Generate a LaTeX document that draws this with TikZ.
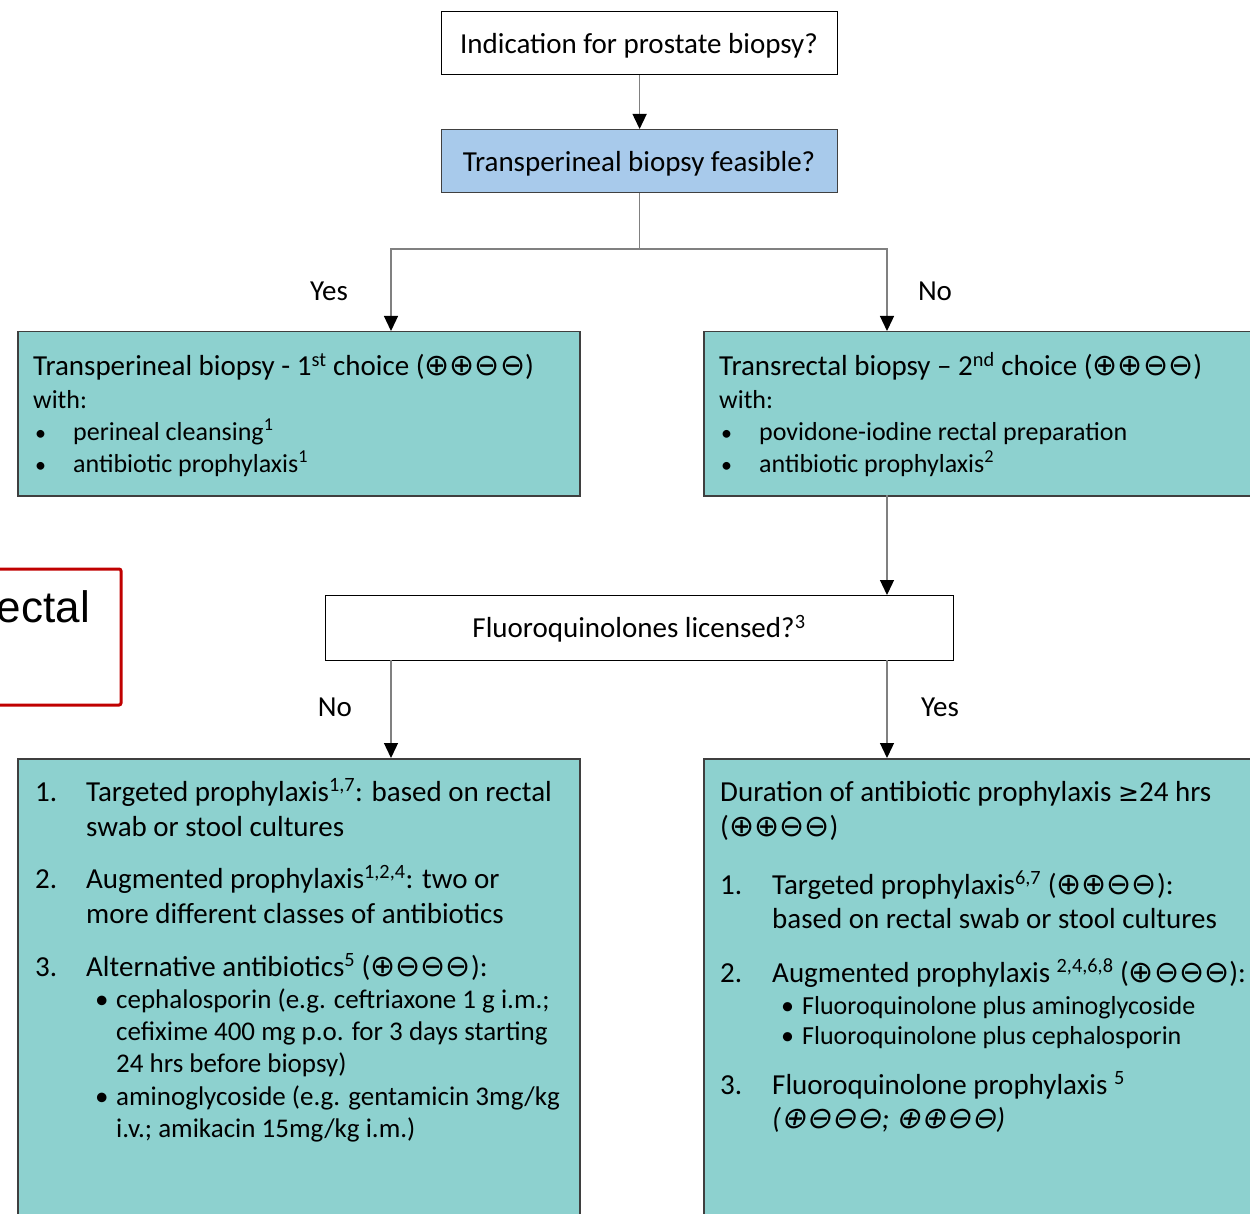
\documentclass[tikz,border=0pt]{standalone}
\usepackage{fontspec}
\setmainfont{Carlito}
\newfontfamily\symf{DejaVu Sans}
\newfontfamily\symfi{DejaVu Sans}[FakeSlant=0.2]
\newfontfamily\redf{Liberation Sans}
\usetikzlibrary{arrows.meta}
\definecolor{tealfill}{HTML}{8DD1CF}
\definecolor{bluefill}{HTML}{A8CAEB}
\definecolor{conncol}{HTML}{808080}
\definecolor{tealdraw}{HTML}{3F3F3F}
\definecolor{redline}{HTML}{C00000}
\newcommand\gr[1]{{\symf\fontsize{30}{30}\selectfont #1}}
\newcommand\gri[1]{{\symfi\fontsize{30}{30}\selectfont #1}}
\newcommand\sps[1]{\textsuperscript{#1}}
\newcommand\smallsz{\fontsize{26}{30}\selectfont}
\newcommand\midsz{\fontsize{27}{30}\selectfont}
\tikzset{
  x=1pt, y=-1pt,
  every node/.style={font=\fontsize{29}{35}\selectfont},
  qbox/.style={draw=black, line width=1.2pt, fill=white, inner sep=0pt, anchor=north west},
  bbox/.style={draw=black!75, line width=1.2pt, fill=bluefill, inner sep=0pt, anchor=north west},
  tbox/.style={draw=tealdraw, line width=1.5pt, fill=tealfill, inner sep=0pt, anchor=north west},
  txt/.style={anchor=base west, inner sep=0pt},
  stxt/.style={anchor=base west, inner sep=0pt, font=\smallsz},
  mtxt/.style={anchor=base west, inner sep=0pt, font=\midsz},
  lbl/.style={anchor=center, inner sep=0pt},
  conn/.style={draw=conncol, line width=1.3pt},
  arr/.style={conn, -{Triangle[width=14pt,length=15pt,fill=black,color=black]}},
}
\begin{document}
\begin{tikzpicture}
\useasboundingbox (0,0) rectangle (1250,1214);
\clip (0,0) rectangle (1250,1214);
% red box fragment
\draw[redline, line width=3pt, rounded corners=2pt] (-20,569) rectangle (121,705);
\node[anchor=base east, inner sep=0pt, font=\redf\fontsize{44}{44}\selectfont] (redtxt) at (90,622) {ectal};

% boxes
\node[qbox, minimum width=396pt, minimum height=63pt] (q1) at (441,11) {};
\node[lbl] (q1t) at (639,46) {Indication for prostate biopsy?};
\node[bbox, minimum width=396pt, minimum height=63pt] (q2) at (441,129) {};
\node[lbl] (q2t) at (639,164) {Transperineal biopsy feasible?};
\node[tbox, minimum width=562pt, minimum height=164pt] (lb) at (17,331) {};
\node[tbox, minimum width=600pt, minimum height=164pt] (rb) at (703,331) {};
\node[qbox, minimum width=628pt, minimum height=65pt] (fq) at (325,595) {};
\node[lbl] (fqt) at (639,629) {Fluoroquinolones licensed?\sps{3}};
\node[tbox, minimum width=562pt, minimum height=500pt] (bl) at (17,758) {};
\node[tbox, minimum width=600pt, minimum height=500pt] (br) at (703,758) {};

% connectors
\coordinate (split) at (q2.south |- 0,249);
\coordinate (lbt) at (391,331);
\coordinate (rbt) at (887,331);
\coordinate (rbb) at (887,495);
\coordinate (fqt1) at (887,595);
\coordinate (fqb1) at (391,660);
\coordinate (fqb2) at (887,660);
\coordinate (blt) at (391,758);
\coordinate (brt) at (887,758);
\draw[arr] (q1.south) -- (q2.north);
\draw[conn] (q2.south) -- (split);
\draw[arr] (split) -| (lbt);
\draw[arr] (split) -| (rbt);
\draw[arr] (rbb) -- (fqt1);
\draw[arr] (fqb1) -- (blt);
\draw[arr] (fqb2) -- (brt);

% labels
\node[lbl] (yes1) at (329,291) {Yes};
\node[lbl] (no1) at (935,291) {No};
\node[lbl] (no2) at (335,707) {No};
\node[lbl] (yes2) at (940,707) {Yes};

% left box text
\node[txt] (l1) at (33,376) {Transperineal biopsy - 1\sps{st} choice (\gr{⊕⊕⊖⊖})};
\node[stxt] (l2) at (33,408) {with:};
\node[stxt] (l3b) at (35,440) {\fontsize{22}{22}\selectfont•};
\node[stxt] (l3) at (73,440) {perineal cleansing\sps{1}};
\node[stxt] (l4b) at (35,472) {\fontsize{22}{22}\selectfont•};
\node[stxt] (l4) at (73,472) {antibiotic prophylaxis\sps{1}};

% right box text
\node[txt] (r1) at (719,376) {Transrectal biopsy – 2\sps{nd} choice (\gr{⊕⊕⊖⊖})};
\node[stxt] (r2) at (719,408) {with:};
\node[stxt] (r3b) at (721,440) {\fontsize{22}{22}\selectfont•};
\node[stxt] (r3) at (759,440) {povidone-iodine rectal preparation};
\node[stxt] (r4b) at (721,472) {\fontsize{22}{22}\selectfont•};
\node[stxt] (r4) at (759,472) {antibiotic prophylaxis\sps{2}};

% bottom-left text
\node[txt] (a1n) at (35,801) {1.};
\node[txt] (a1) at (86,801) {Targeted prophylaxis\sps{1,7}: based on rectal};
\node[txt] (a1c) at (86,836) {swab or stool cultures};
\node[txt] (a2n) at (35,888) {2.};
\node[txt] (a2) at (86,888) {Augmented prophylaxis\sps{1,2,4}: two or};
\node[txt] (a2c) at (86,923) {more different classes of antibiotics};
\node[txt] (a3n) at (35,976) {3.};
\node[txt] (a3) at (86,976) {Alternative antibiotics\sps{5} (\gr{⊕⊖⊖⊖}):};
\node[mtxt] (a3ab) at (95,1008) {•};
\node[mtxt] (a3a) at (116,1008) {cephalosporin (e.g. ceftriaxone 1 g i.m.;};
\node[mtxt] (a3a2) at (116,1040) {cefixime 400 mg p.o. for 3 days starting};
\node[mtxt] (a3a3) at (116,1072) {24 hrs before biopsy)};
\node[mtxt] (a3bb) at (95,1105) {•};
\node[mtxt] (a3b) at (116,1105) {aminoglycoside (e.g. gentamicin 3mg/kg};
\node[mtxt] (a3b2) at (116,1137) {i.v.; amikacin 15mg/kg i.m.)};

% bottom-right text
\node[txt] (b0) at (720,801) {Duration of antibiotic prophylaxis {\symf\fontsize{25}{25}\selectfont ≥}24 hrs};
\node[txt] (b0c) at (720,836) {(\gr{⊕⊕⊖⊖})};
\node[txt] (b1n) at (720,894) {1.};
\node[txt] (b1) at (772,894) {Targeted prophylaxis\sps{6,7} (\gr{⊕⊕⊖⊖}):};
\node[txt] (b1c) at (772,928) {based on rectal swab or stool cultures};
\node[txt] (b2n) at (720,982) {2.};
\node[txt] (b2) at (772,982) {Augmented prophylaxis \sps{2,4,6,8} (\gr{⊕⊖⊖⊖}):};
\node[stxt] (b2ab) at (781,1014) {•};
\node[stxt] (b2a) at (802,1014) {Fluoroquinolone plus aminoglycoside};
\node[stxt] (b2bb) at (781,1044) {•};
\node[stxt] (b2b) at (802,1044) {Fluoroquinolone plus cephalosporin};
\node[txt] (b3n) at (720,1094) {3.};
\node[txt] (b3) at (772,1094) {Fluoroquinolone prophylaxis \sps{5}};
\node[txt] (b3c) at (772,1128) {\itshape(\gri{⊕⊖⊖⊖}; \gri{⊕⊕⊖⊖})};
\end{tikzpicture}
\end{document}
